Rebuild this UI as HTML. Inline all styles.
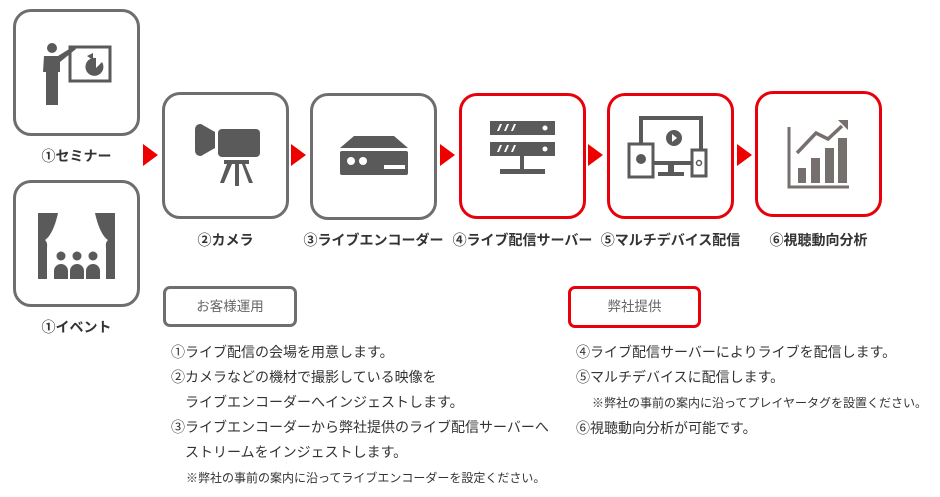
<!DOCTYPE html>
<html><head><meta charset="utf-8"><style>
body{margin:0;width:940px;height:497px;background:#fff;position:relative;overflow:hidden;font-family:"Liberation Sans","Noto Sans CJK JP",sans-serif;color:#333}
.b{position:absolute;width:122px;height:122px;border:3px solid #6e6e6e;border-radius:18px;box-sizing:border-box}
.r{border-color:#e8000b}
.l{position:absolute;font-weight:bold;font-size:14px;color:#333;white-space:nowrap;text-align:center}
.a{position:absolute;width:0;height:0;border-top:11px solid transparent;border-bottom:11px solid transparent;border-left:15px solid #ee0000}
.t{position:absolute;font-size:14px;color:#333;white-space:nowrap}
.s{font-size:12px}
.tag{position:absolute;border:3px solid #6e6e6e;border-radius:7px;box-sizing:border-box;font-size:13.5px;color:#666;text-align:center}
svg{position:absolute;left:0;top:0}
</style></head><body>
<div class="b" style="left:13px;top:9px;width:127px;height:127px"><svg width="122" height="122" viewBox="0 0 122 122"><circle cx="36" cy="36" r="5" fill="#5a5a5a"/><path d="M28 44h14l16-10 2 3-16 13v10h-2v33h-12v-33h-3z" fill="#5a5a5a"/><rect x="54" y="35" width="40" height="34" fill="none" stroke="#5a5a5a" stroke-width="3"/><path d="M80 46a9 9 0 1 0 6 4l-6 6z" fill="#5a5a5a"/><path d="M77 41v7l-6-4z" fill="#5a5a5a"/></svg></div>
<div class="l" style="left:13px;top:146px;width:127px">①セミナー</div>
<div class="b" style="left:13px;top:180px;width:127px;height:127px"><svg width="122" height="122" viewBox="0 0 122 122"><path d="M22 30h20c-3 14-8 24-13 27 3 3 2 6 2 8v31h-9z" fill="#5a5a5a"/><path d="M99 30h-20c3 14 8 24 13 27-3 3-2 6-2 8v31h9z" fill="#5a5a5a"/><circle cx="45" cy="73" r="4.5" fill="#5a5a5a"/><circle cx="61" cy="73" r="4.5" fill="#5a5a5a"/><circle cx="77" cy="73" r="4.5" fill="#5a5a5a"/><path d="M38 96v-8a7 7 0 0 1 14 0v8zM54 96v-8a7 7 0 0 1 14 0v8zM70 96v-8a7 7 0 0 1 14 0v8z" fill="#5a5a5a"/></svg></div>
<div class="l" style="left:13px;top:317px;width:127px">①イベント</div>
<div class="a" style="left:143px;top:144px"></div>
<div class="b" style="left:162px;top:92px;width:127px;height:127px"><svg width="122" height="122" viewBox="0 0 122 122"><path d="M30 35c0-4 2-6 6-6l14 8v16l-14 8c-4 0-6-2-6-6z" fill="#5a5a5a"/><rect x="53" y="34" width="42" height="28" rx="4" fill="#5a5a5a"/><rect x="59" y="65" width="25" height="4" fill="#5a5a5a"/><path d="M62 69l-7 19h4l8-19zM70 69h4v22h-4zM80 69l8 19h-4l-7-19z" fill="#5a5a5a"/></svg></div>
<div class="l" style="left:162px;top:230px;width:127px">②カメラ</div>
<div class="a" style="left:291px;top:144px"></div>
<div class="b" style="left:310px;top:93px;width:127px;height:127px"><svg width="122" height="122" viewBox="0 0 122 122"><path d="M27 52l14-12h40l14 12z" fill="#5a5a5a"/><rect x="27" y="55" width="68" height="24" rx="2" fill="#5a5a5a"/><circle cx="38" cy="65" r="4" fill="#fff"/><circle cx="50" cy="65" r="4" fill="#fff"/><rect x="71" y="69" width="21" height="4" fill="#fff"/></svg></div>
<div class="l" style="left:298px;top:230px;width:151px">③ライブエンコーダー</div>
<div class="a" style="left:440px;top:144px"></div>
<div class="b r" style="left:459px;top:93px;width:127px;height:126px"><svg width="122" height="122" viewBox="0 0 122 122"><rect x="28" y="25" width="65" height="14" fill="#5a5a5a"/><rect x="28" y="46" width="65" height="14" fill="#5a5a5a"/><path d="M35 35l3-7h2l-3 7zM42 35l3-7h2l-3 7zM49 35l3-7h2l-3 7zM35 56l3-7h2l-3 7zM42 56l3-7h2l-3 7zM49 56l3-7h2l-3 7z" fill="#fff"/><circle cx="83" cy="32" r="2.5" fill="#fff"/><circle cx="83" cy="53" r="2.5" fill="#fff"/><rect x="58" y="60" width="4" height="16" fill="#5a5a5a"/><rect x="38" y="73" width="45" height="5" fill="#5a5a5a"/></svg></div>
<div class="l" style="left:444px;top:230px;width:157px">④ライブ配信サーバー</div>
<div class="a" style="left:588px;top:144px"></div>
<div class="b r" style="left:607px;top:93px;width:127px;height:126px"><svg width="122" height="122" viewBox="0 0 122 122"><rect x="31" y="22" width="60" height="45" fill="none" stroke="#5a5a5a" stroke-width="4"/><circle cx="64" cy="42" r="8" fill="#5a5a5a"/><path d="M62 38l5 4-5 4z" fill="#fff"/><rect x="58" y="67" width="6" height="10" fill="#5a5a5a"/><rect x="48" y="76" width="26" height="4" fill="#5a5a5a"/><rect x="19" y="48" width="24" height="33" fill="#fff" stroke="#5a5a5a" stroke-width="3"/><circle cx="31" cy="63" r="5" fill="#5a5a5a"/><rect x="82" y="54" width="14" height="26" fill="#fff" stroke="#5a5a5a" stroke-width="3"/><circle cx="89" cy="67" r="2.5" fill="none" stroke="#5a5a5a" stroke-width="1.5"/></svg></div>
<div class="l" style="left:592px;top:230px;width:157px">⑤マルチデバイス配信</div>
<div class="a" style="left:737px;top:144px"></div>
<div class="b r" style="left:755px;top:91px;width:127px;height:126px"><svg width="122" height="122" viewBox="0 0 122 122"><path d="M31 33v60h60" fill="none" stroke="#756f6d" stroke-width="3"/><rect x="40" y="74" width="8" height="15" fill="#756f6d"/><rect x="53" y="64" width="9" height="25" fill="#756f6d"/><rect x="67" y="54" width="9" height="35" fill="#756f6d"/><rect x="80" y="44" width="9" height="45" fill="#756f6d"/><path d="M39 59l19-20 12 6 14-13" fill="none" stroke="#756f6d" stroke-width="3.5"/><path d="M80 26h10v10z" fill="#756f6d"/></svg></div>
<div class="l" style="left:755px;top:230px;width:127px">⑥視聴動向分析</div>
<div class="tag" style="left:163px;top:286px;width:134px;height:41px;line-height:35px">お客様運用</div>
<div class="tag" style="left:568px;top:286px;width:133px;height:42px;line-height:36px;border-color:#e8000b">弊社提供</div>
<div class="t" style="left:171px;top:342px">①ライブ配信の会場を用意します。</div>
<div class="t" style="left:171px;top:367px">②カメラなどの機材で撮影している映像を</div>
<div class="t" style="left:185px;top:392px">ライブエンコーダーへインジェストします。</div>
<div class="t" style="left:171px;top:417px">③ライブエンコーダーから弊社提供のライブ配信サーバーへ</div>
<div class="t" style="left:185px;top:442px">ストリームをインジェストします。</div>
<div class="t s" style="left:186px;top:469px">※弊社の事前の案内に沿ってライブエンコーダーを設定ください。</div>
<div class="t" style="left:576px;top:342px">④ライブ配信サーバーによりライブを配信します。</div>
<div class="t" style="left:576px;top:367px">⑤マルチデバイスに配信します。</div>
<div class="t s" style="left:592px;top:394px">※弊社の事前の案内に沿ってプレイヤータグを設置ください。</div>
<div class="t" style="left:576px;top:418px">⑥視聴動向分析が可能です。</div>
</body></html>
